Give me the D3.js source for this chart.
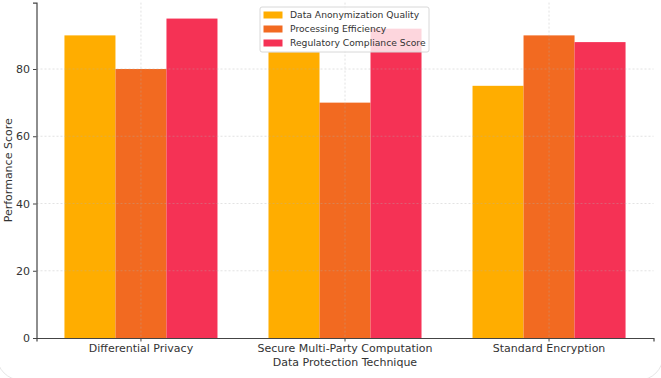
<!DOCTYPE html>
<html><head><meta charset="utf-8">
<script src="https://cdn.jsdelivr.net/npm/d3@7"></script>
<style>
html,body{margin:0;padding:0;background:#fff;}
svg{display:block;font-family:"DejaVu Sans",sans-serif;}
</style></head>
<body>
<svg id="c" width="661" height="378"></svg>
<script>
const categories = ["Differential Privacy", "Secure Multi-Party Computation", "Standard Encryption"];
const seriesNames = ["Data Anonymization Quality", "Processing Efficiency", "Regulatory Compliance Score"];
const anonymization = [90, 85, 75];
const efficiency = [80, 70, 90];
const compliance = [95, 92, 88];
const yTicks = [0, 20, 40, 60, 80];
const colors = ["#ffad00", "#f26a21", "#f53255"];

(function () {
const seriesValues = [anonymization, efficiency, compliance];
const svg = d3.select("#c");

// frame (only corners visible in the reference)
svg.append("rect").attr("x",-3).attr("y",-40).attr("width",666).attr("height",420)
  .attr("rx",24).attr("fill","none").attr("stroke","#e6e6e6").attr("stroke-width",1);

const pL = 36.5, pR = 653.5, pB = 338, pT = 2.6;
const x0 = d3.scaleBand().domain(categories).range([pL, pR]).paddingInner(0.25).paddingOuter(0.137);
const x1 = d3.scaleBand().domain(seriesNames).range([0, x0.bandwidth()]).padding(0);
const y = d3.scaleLinear().domain([0, 99.75]).range([pB, pT]);

// bars
const g = svg.append("g");
categories.forEach((c, ci) => {
  seriesNames.forEach((s, si) => {
    const v = seriesValues[si][ci];
    g.append("rect")
      .attr("x", x0(c) + x1(s))
      .attr("y", y(v))
      .attr("width", x1.bandwidth())
      .attr("height", y(0) - y(v))
      .attr("fill", colors[si]);
  });
});

// grid (above bars)
const grid = svg.append("g").attr("stroke","#b0b0b0").attr("stroke-dasharray","2,2").attr("opacity",0.35);
yTicks.slice(1).forEach(t => grid.append("line").attr("x1",pL).attr("x2",pR).attr("y1",y(t)).attr("y2",y(t)));
categories.forEach(c => {
  const cx = x0(c) + x0.bandwidth()/2;
  grid.append("line").attr("x1",cx).attr("x2",cx).attr("y1",pT).attr("y2",pB);
});

// axes
const xAxis = svg.append("g").attr("transform",`translate(0,${pB})`)
  .call(d3.axisBottom(x0).tickSizeOuter(0).tickSize(3.5).tickPadding(3));
const yAxis = svg.append("g").attr("transform",`translate(${pL},0)`)
  .call(d3.axisLeft(y).tickValues(yTicks).tickSizeOuter(0).tickSize(3.5).tickPadding(3));
[xAxis, yAxis].forEach(a => {
  a.select(".domain").attr("stroke","#444").attr("stroke-width",1.2);
  a.selectAll(".tick line").attr("stroke","#444");
  a.selectAll("text").attr("fill","#333").attr("font-size",11).attr("font-family","DejaVu Sans");
});

// axis titles
svg.append("text").attr("x",(pL+pR)/2).attr("y",366).attr("text-anchor","middle")
  .attr("font-size",11).attr("fill","#333").text("Data Protection Technique");
svg.append("text").attr("transform",`translate(12,${(pT+pB)/2}) rotate(-90)`)
  .attr("text-anchor","middle").attr("font-size",11).attr("fill","#333").text("Performance Score");

// legend
const lg = svg.append("g").attr("transform","translate(260,7)");
lg.append("rect").attr("width",169).attr("height",45).attr("rx",2)
  .attr("fill","#fff").attr("fill-opacity",0.8).attr("stroke","#d8d8d8");
seriesNames.forEach((s, i) => {
  const yy = 8 + i*14;
  lg.append("rect").attr("x",3.5).attr("y",yy-3.5).attr("width",19).attr("height",7).attr("fill",colors[i]);
  lg.append("text").attr("x",30).attr("y",yy).attr("dy","0.35em").attr("font-size",9.2)
    .attr("fill","#333").text(s);
});
})();
</script>
</body></html>
